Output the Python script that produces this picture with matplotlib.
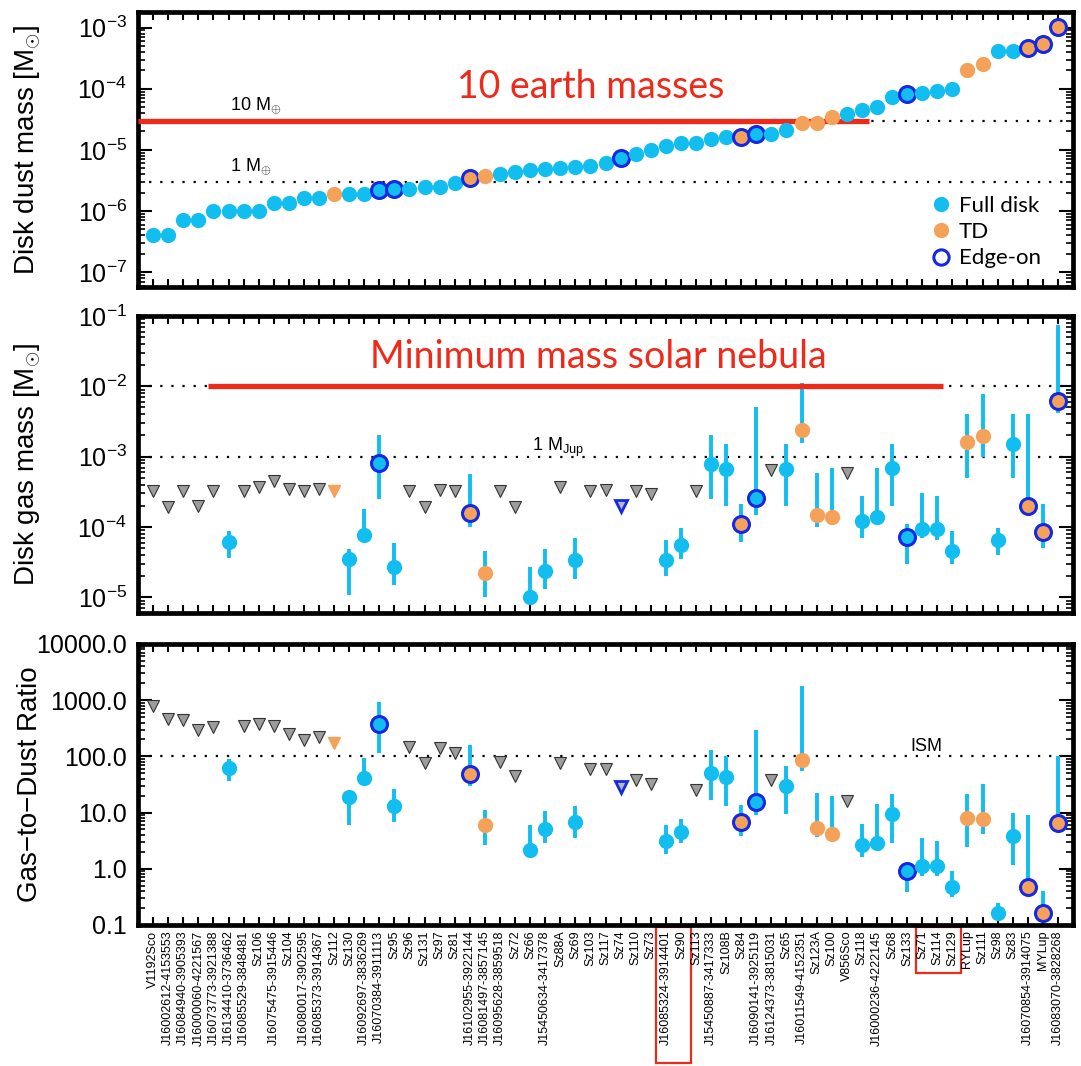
import numpy as np
import matplotlib.pyplot as plt
import matplotlib.transforms as mtransforms
from matplotlib.lines import Line2D
from matplotlib.patches import Rectangle

plt.rcParams['font.family'] = ['Liberation Sans', 'DejaVu Sans']
plt.rcParams['mathtext.fontset'] = 'custom'
plt.rcParams['mathtext.rm'] = 'Liberation Sans'
plt.rcParams['mathtext.it'] = 'Liberation Sans:italic'
plt.rcParams['mathtext.bf'] = 'Liberation Sans:bold'

# sources, ordered by dust mass
names = ['V1192Sco', 'J16002612-4153553', 'J16084940-3905393', 'J16000060-4221567',
         'J16073773-3921388', 'J16134410-3736462', 'J16085529-3848481', 'Sz106',
         'J16075475-3915446', 'Sz104', 'J16080017-3902595', 'J16085373-3914367',
         'Sz112', 'Sz130', 'J16092697-3836269', 'J16070384-3911113', 'Sz95', 'Sz96',
         'Sz131', 'Sz97', 'Sz81', 'J16102955-3922144', 'J16081497-3857145',
         'J16095628-3859518', 'Sz72', 'Sz66', 'J15450634-3417378', 'Sz88A', 'Sz69',
         'Sz103', 'Sz117', 'Sz74', 'Sz110', 'Sz73', 'J16085324-3914401', 'Sz90',
         'Sz113', 'J15450887-3417333', 'Sz108B', 'Sz84', 'J16090141-3925119',
         'J16124373-3815031', 'Sz65', 'J16011549-4152351', 'Sz123A', 'Sz100',
         'V856Sco', 'Sz118', 'J16000236-4222145', 'Sz68', 'Sz133', 'Sz71', 'Sz114',
         'Sz129', 'RYLup', 'Sz111', 'Sz98', 'Sz83', 'J16070854-3914075', 'MYLup',
         'J16083070-3828268']

# dust mass [Msun]
dust_mass = [4.1e-7, 4.1e-7, 7.2e-7, 7.2e-7, 1.0e-6, 1.0e-6, 1.0e-6, 1.0e-6,
             1.35e-6, 1.35e-6, 1.65e-6, 1.65e-6, 1.9e-6, 1.9e-6, 1.9e-6, 2.2e-6,
             2.25e-6, 2.3e-6, 2.5e-6, 2.5e-6, 2.9e-6, 3.4e-6, 3.8e-6, 4.1e-6,
             4.4e-6, 4.6e-6, 4.8e-6, 5.1e-6, 5.3e-6, 5.4e-6, 6.1e-6, 7.4e-6,
             8.7e-6, 1.0e-5, 1.15e-5, 1.3e-5, 1.3e-5, 1.5e-5, 1.6e-5, 1.6e-5,
             1.8e-5, 1.8e-5, 2.15e-5, 2.8e-5, 2.8e-5, 3.5e-5, 3.8e-5, 4.5e-5,
             5.0e-5, 7.4e-5, 8.1e-5, 8.6e-5, 9.1e-5, 1.0e-4, 2.0e-4, 2.5e-4,
             4.1e-4, 4.1e-4, 4.7e-4, 5.5e-4, 1.04e-3]

# gas mass [Msun] with lower/upper bounds (None = upper limit only)
gas_mass = [3.2e-4, 1.9e-4, 3.2e-4, 2.0e-4, 3.3e-4, 6.2e-5, 3.3e-4, 3.7e-4,
            4.5e-4, 3.5e-4, 3.2e-4, 3.5e-4, 3.3e-4, 3.5e-5, 7.6e-5, 8.1e-4,
            2.7e-5, 3.2e-4, 1.9e-4, 3.4e-4, 3.2e-4, 1.6e-4, 2.2e-5, 3.2e-4,
            1.9e-4, 1.0e-5, 2.4e-5, 3.7e-4, 3.4e-5, 3.2e-4, 3.4e-4, 2.0e-4,
            3.3e-4, 2.9e-4, 3.4e-5, 5.5e-5, 3.2e-4, 7.8e-4, 6.6e-4, 1.1e-4,
            2.6e-4, 6.4e-4, 6.6e-4, 2.4e-3, 1.5e-4, 1.4e-4, 5.8e-4, 1.2e-4,
            1.4e-4, 6.8e-4, 7.2e-5, 9.5e-5, 9.5e-5, 4.6e-5, 1.6e-3, 1.95e-3,
            6.5e-5, 1.5e-3, 2.0e-4, 8.5e-5, 6.1e-3]
gas_lo = [None, None, None, None, None, 3.6e-5, None, None, None, None, None, None,
          None, 1.07e-5, 6.5e-5, 2.5e-4, 1.5e-5, None, None, None, None, 1.0e-4,
          1.0e-5, None, None, 1.0e-5, 1.3e-5, None, 1.8e-5, None, None, None,
          None, None, 2.0e-5, 3.5e-5, None, 2.5e-4, 2.0e-4, 6.2e-5, 1.5e-4, None,
          2.0e-4, 1.55e-3, 1.0e-4, 1.35e-4, None, 6.9e-5, 1.1e-4, 2.0e-4, 3.0e-5,
          6.9e-5, 6.5e-5, 3.0e-5, 4.9e-4, 1.0e-3, 4.0e-5, 4.9e-4, 1.55e-4,
          5.1e-5, 4.2e-3]
gas_hi = [None, None, None, None, None, 8.9e-5, None, None, None, None, None, None,
          None, 4.9e-5, 1.8e-4, 2.0e-3, 5.9e-5, None, None, None, None, 5.6e-4,
          4.5e-5, None, None, 2.7e-5, 4.9e-5, None, 6.9e-5, None, None, None,
          None, None, 6.6e-5, 9.8e-5, None, 2.0e-3, 1.5e-3, 2.1e-4, 5.0e-3, None,
          1.5e-3, 1.1e-2, 5.9e-4, 6.8e-4, None, 2.75e-4, 6.8e-4, 1.5e-3, 1.1e-4,
          3.0e-4, 2.75e-4, 8.7e-5, 4.0e-3, 7.9e-3, 9.8e-5, 4.0e-3, 4.0e-3,
          2.1e-4, 7.4e-2]

# gas-to-dust ratio with lower/upper bounds
ratio = [800, 463, 450, 300, 334, 62, 341, 377, 341, 253, 198, 221, 173, 19, 41,
         383, 12.9, 145, 76, 141, 115, 49, 6.1, 81, 45, 2.2, 5.1, 76, 6.7, 60, 60,
         28.5, 38.5, 31.6, 3.1, 4.6, 25.7, 50, 43, 6.8, 15.2, 37.5, 30, 87, 5.3,
         4.1, 15.8, 2.7, 2.9, 9.6, 0.9, 1.1, 1.1, 0.47, 8.0, 7.7, 0.16, 3.8, 0.47,
         0.16, 6.5]
ratio_lo = [None, None, None, None, None, 36, None, None, None, None, None, None,
            None, 5.9, 34, 117, 6.9, None, None, None, None, 30, 2.7, None, None,
            2.2, 2.9, None, 3.5, None, None, None, None, None, 1.8, 2.9, None, 17,
            13, 3.8, 9.1, None, 9.5, 54, 3.7, 3.2, None, 1.6, 2.45, 2.9, 0.38,
            0.73, 0.73, 0.32, 2.45, 4.1, 0.14, 1.17, 0.40, 0.124, 5.5]
ratio_hi = [None, None, None, None, None, 89, None, None, None, None, None, None,
            None, 23, 93, 912, 26, None, None, None, None, 162, 11.2, None, None,
            5.9, 10.5, None, 13.2, None, None, None, None, None, 6.1, 7.8, None,
            132, 100, 13.8, 300, None, 68, 1780, 22, 20, None, 6.3, 14.5, 21,
            1.26, 3.55, 3.1, 0.9, 21, 31.6, 0.245, 9.8, 9.1, 0.40, 102]

td = [13, 22, 23, 40, 44, 45, 46, 55, 56, 59, 60, 61]
edge_dust = [16, 17, 22, 32, 40, 41, 51, 59, 60, 61]
edge_gas = [16, 22, 32, 40, 41, 51, 59, 60, 61]

cyan = '#12BDF0'
orange = '#F4A159'
blue = '#1428E6'
red = '#EE2A1A'
grey = '#9c9c9c'

x = np.arange(1, len(names) + 1)

fig = plt.figure(figsize=(10.81, 10.66), dpi=100)
ax1 = fig.add_axes([0.1277, 0.7308, 0.8649, 0.2579])
ax2 = fig.add_axes([0.1277, 0.4250, 0.8649, 0.2786])
ax3 = fig.add_axes([0.1277, 0.1323, 0.8649, 0.2636])


def style_axes(ax):
    ax.set_yscale('log')
    ax.set_xlim(0, 62)
    ax.set_xticks(x)
    for s in ax.spines.values():
        s.set_linewidth(3.4)
    ax.tick_params(axis='x', which='major', direction='in', top=True, bottom=True,
                   length=6, width=1.5)
    ax.tick_params(axis='y', which='major', direction='in', left=True, right=True,
                   length=10, width=1.5, labelsize=18, pad=8)
    ax.tick_params(axis='y', which='minor', direction='in', left=True, right=True,
                   length=5, width=1.2)
    ax.yaxis.set_label_coords(-0.102, 0.5)


def plot_gas(ax, val, lo, hi):
    for n, v, l, h in zip(x, val, lo, hi):
        face = orange if n in td else cyan
        if l is None:
            if n in td:
                ax.plot(n, v, 'v', mfc=orange, mec=orange, ms=9, zorder=3)
            elif n in edge_gas:
                ax.plot(n, v, 'v', mfc='#b8b8b8', mec=blue, mew=2, ms=9, zorder=3)
            else:
                ax.plot(n, v, 'v', mfc=grey, mec='#333333', mew=0.8, ms=9, zorder=3)
            continue
        ax.plot([n, n], [l, h], color=cyan, lw=2.8, solid_capstyle='butt', zorder=2)
        if n in edge_gas:
            ax.plot(n, v, 'o', mfc=face, mec=blue, mew=2.2, ms=11.5, zorder=3)
        else:
            ax.plot(n, v, 'o', mfc=face, mec='none', ms=11, zorder=3)


dots = (0, (1, 4))

# dust masses
style_axes(ax1)
ax1.set_ylim(5.7e-8, 1.8e-3)
ax1.axhline(3e-5, color='k', ls=dots, lw=1.6)
ax1.axhline(3e-6, color='k', ls=dots, lw=1.6)
ax1.plot([0, 48.5], [3e-5, 3e-5], color=red, lw=3.8, solid_capstyle='butt', zorder=4)
for n, v in zip(x, dust_mass):
    face = orange if n in td else cyan
    if n in edge_dust:
        ax1.plot(n, v, 'o', mfc=face, mec=blue, mew=2.2, ms=11.5, zorder=5)
    else:
        ax1.plot(n, v, 'o', mfc=face, mec='none', ms=11, zorder=5)
ax1.text(6.1, 5.4e-5, r'10 M$_{\oplus}$', fontsize=13, va='center')
ax1.text(6.1, 5.4e-6, r'1 M$_{\oplus}$', fontsize=13, va='center')
ax1.text(30, 1.05e-4, '10 earth masses', color=red, fontsize=27, family='Lato',
         ha='center', va='center')
ax1.set_ylabel(r'Disk dust mass [M$_{\odot}$]', fontsize=20)
ax1.set_xticklabels([])
handles = [Line2D([], [], marker='o', ls='none', mfc=cyan, mec='none', ms=11, label='Full disk'),
           Line2D([], [], marker='o', ls='none', mfc=orange, mec='none', ms=11, label='TD'),
           Line2D([], [], marker='o', ls='none', mfc='none', mec=blue, mew=2.2, ms=11, label='Edge-on')]
ax1.legend(handles=handles, loc='lower right', bbox_to_anchor=(0.975, 0.035), frameon=False,
           prop={'family': 'Lato', 'size': 16}, handlelength=1, handletextpad=0.3,
           labelspacing=0.28, borderaxespad=0)

# gas masses
style_axes(ax2)
ax2.set_ylim(6e-6, 0.1)
ax2.axhline(1e-2, color='k', ls=dots, lw=1.6)
ax2.axhline(1e-3, color='k', ls=dots, lw=1.6)
ax2.plot([4.65, 53.4], [1e-2, 1e-2], color=red, lw=3.8, solid_capstyle='butt', zorder=4)
plot_gas(ax2, gas_mass, gas_lo, gas_hi)
ax2.text(26.1, 1.35e-3, r'1 M$_{\rm Jup}$', fontsize=13, va='center')
ax2.text(30.5, 0.0258, 'Minimum mass solar nebula', color=red, fontsize=27,
         family='Lato', ha='center', va='center')
ax2.set_ylabel(r'Disk gas mass [M$_{\odot}$]', fontsize=20)
ax2.set_xticklabels([])

# gas-to-dust ratio
style_axes(ax3)
ax3.set_ylim(0.1, 10000)
ax3.set_yticks([0.1, 1, 10, 100, 1000, 10000])
ax3.set_yticklabels(['0.1', '1.0', '10.0', '100.0', '1000.0', '10000.0'])
ax3.axhline(100, color='k', ls=dots, lw=1.6)
plot_gas(ax3, ratio, ratio_lo, ratio_hi)
ax3.text(51.2, 148, 'ISM', fontsize=13, va='center')
ax3.set_ylabel('Gas\u2212to\u2212Dust Ratio', fontsize=20)
ax3.set_xticklabels(names, rotation=90, fontsize=9)
ax3.tick_params(axis='x', pad=4)

# boxes around highlighted source names
trans = mtransforms.blended_transform_factory(ax3.transData, ax3.transAxes)
for x0, x1, depth in [(34.35, 36.7, 0.49), (51.6, 54.55, 0.17)]:
    ax3.add_patch(Rectangle((x0, -depth), x1 - x0, depth - 0.007, transform=trans,
                            fill=False, ec=red, lw=1.6, clip_on=False))

fig.savefig('out.png', dpi=100)
